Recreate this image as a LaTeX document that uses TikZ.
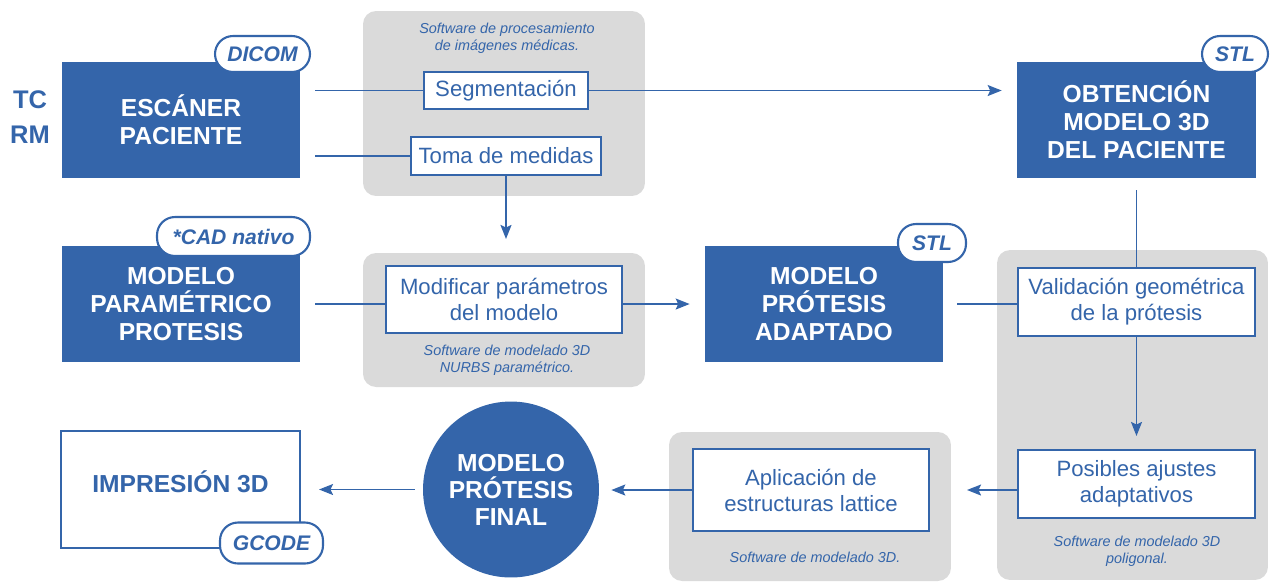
\documentclass[tikz,border=0pt]{standalone}
\usepackage{fontspec}
\setmainfont{Liberation Sans}
\usetikzlibrary{arrows.meta}

\definecolor{myblue}{RGB}{52,101,170}
\definecolor{softgray}{RGB}{218,218,218}

\tikzset{
    bluebox/.style={rectangle, fill=myblue, text=white, align=center,
        font=\bfseries\fontsize{14}{16}\selectfont,
        minimum width=4.76cm, minimum height=2.32cm, inner sep=0pt},
    tag/.style={rectangle, rounded corners=0.36cm, draw=myblue, fill=white,
        line width=1.2pt, text=myblue, inner sep=0pt,
        font=\bfseries\itshape\fontsize{12}{14}\selectfont},
    task/.style={rectangle, draw=myblue, fill=white, line width=1.2pt,
        text=myblue, align=center, inner sep=0pt,
        font=\fontsize{12.6}{14.8}\selectfont},
    softbg/.style={rectangle, rounded corners=0.26cm, fill=softgray, inner sep=0pt},
    note/.style={text=myblue, align=center,
        font=\itshape\fontsize{8.2}{9.6}\selectfont},
    link/.style={draw=myblue, line width=0.9pt},
    flow/.style={link, -{Stealth[length=0.28cm, width=0.22cm, inset=0.05cm]}}
}

\begin{document}
\begin{tikzpicture}[x=0.02cm, y=-0.02cm]
    \useasboundingbox (0,0) rectangle (1271,583);

    % Software backgrounds
    \node[softbg, minimum width=5.64cm, minimum height=3.7cm] (bgimg) at (504,103.5) {};
    \node[softbg, minimum width=5.64cm, minimum height=2.68cm] (bgnurbs) at (504,320) {};
    \node[softbg, minimum width=5.42cm, minimum height=6.6cm] (bgpoly) at (1132.5,415) {};
    \node[softbg, minimum width=5.64cm, minimum height=2.98cm] (bgmesh) at (810,506.5) {};

    \node[note] (noteimg) at (507,38) {Software de procesamiento\\de imágenes médicas.};
    \node[note] (notenurbs) at (507,360) {Software de modelado 3D\\NURBS paramétrico.};
    \node[note] (notepoly) at (1137,551) {Software de modelado 3D\\poligonal.};
    \node[note] (notemesh) at (815,557) {Software de modelado 3D.};

    % Scanner
    \node[text=myblue, align=center, font=\bfseries\fontsize{14.5}{19.8}\selectfont] (modalidad) at (30,117) {TC\\RM};
    \node[bluebox] (escaner) at (181,120) {ESCÁNER\\PACIENTE};
    \node[tag, minimum width=1.9cm, minimum height=0.72cm] (dicom) at (262.5,54) {DICOM};

    % Patient model
    \node[bluebox, minimum width=4.78cm] (obtencion) at (1136.5,120) {OBTENCIÓN\\MODELO 3D\\DEL PACIENTE};
    \node[tag, minimum width=1.32cm, minimum height=0.72cm] (stlpac) at (1235,54) {STL};

    % Parametric model
    \node[bluebox] (param) at (181,304) {MODELO\\PARAMÉTRICO\\PROTESIS};
    \node[tag, minimum width=3.06cm, minimum height=0.78cm] (cad) at (233.5,236.5) {*CAD nativo};

    \node[bluebox] (adapt) at (824,304) {MODELO\\PRÓTESIS\\ADAPTADO};
    \node[tag, minimum width=1.36cm, minimum height=0.76cm] (stlprot) at (932,243) {STL};

    % Tasks
    \node[task, minimum width=3.28cm, minimum height=0.74cm] (segm) at (506,90.5) {Segmentación};
    \node[task, minimum width=3.8cm, minimum height=0.76cm] (toma) at (506,156) {Toma de medidas};
    \node[task, minimum width=4.72cm, minimum height=1.34cm] (modif) at (504,299.5) {Modificar parámetros\\del modelo};
    \node[task, minimum width=4.74cm, minimum height=1.36cm] (valid) at (1136.5,302) {Validación geométrica\\de la prótesis};
    \node[task, minimum width=4.74cm, minimum height=1.36cm] (posib) at (1136.5,484) {Posibles ajustes\\adaptativos};
    \node[task, minimum width=4.72cm, minimum height=1.64cm] (aplic) at (811,490) {Aplicación de\\estructuras lattice};

    % Final model and printing
    \node[circle, fill=myblue, text=white, align=center, inner sep=0pt, minimum size=3.52cm,
        font=\bfseries\fontsize{14}{15.4}\selectfont] (final) at (511,489.5) {MODELO\\PRÓTESIS\\FINAL};
    \node[rectangle, draw=myblue, line width=1.2pt, fill=white, text=myblue, inner sep=0pt,
        minimum width=4.78cm, minimum height=2.34cm, text depth=0.3cm,
        font=\bfseries\fontsize{14}{16}\selectfont] (impresion) at (180.5,489.5) {IMPRESIÓN 3D};
    \node[tag, minimum width=2.06cm, minimum height=0.82cm] (gcode) at (271.5,543) {GCODE};

    % Connectors
    \draw[link, shorten <=0.3cm] (escaner.east |- segm.west) -- (segm.west);
    \draw[link, shorten <=0.3cm] (escaner.east |- toma.west) -- (toma.west);
    \draw[flow, shorten >=0.3cm] (segm.east) -- (obtencion.west |- segm.east);
    \draw[flow, shorten >=0.52cm] (toma.south) -- (toma.south |- modif.north);
    \draw[link, shorten <=0.3cm] (param.east) -- (modif.west |- param.east);
    \draw[flow, shorten >=0.3cm] (modif.east |- param.east) -- (adapt.west);
    \draw[link, shorten <=0.28cm] (adapt.east) -- (valid.west |- adapt.east);
    \draw[link, shorten <=0.24cm] (obtencion.south) -- (valid.north);
    \draw[flow, shorten >=0.26cm] (valid.south) -- (posib.north);
    \draw[flow, shorten >=0.74cm] (posib.west |- aplic.east) -- (aplic.east);
    \draw[flow, shorten >=0.24cm] (aplic.west) -- (final.east |- aplic.west);
    \draw[flow, shorten <=0.16cm, shorten >=0.36cm] (final.west) -- (impresion.east);
\end{tikzpicture}
\end{document}
